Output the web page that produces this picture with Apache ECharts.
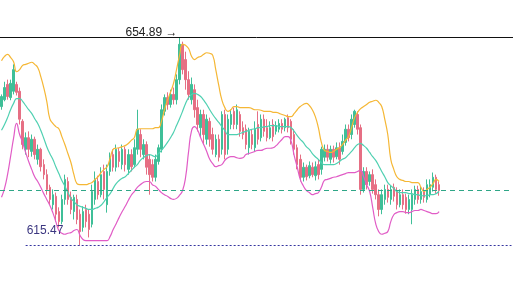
<!DOCTYPE html>
<html>
<head>
<meta charset="utf-8">
<script src="https://cdn.jsdelivr.net/npm/echarts@6/dist/echarts.min.js"></script>
<style>
html,body{margin:0;padding:0;background:#fff;}
#chart{width:513px;height:285px;}
</style>
</head>
<body>
<div id="chart"></div>
<script>
// [open, close, low, high]
const ohlc = [
[641.8,643.7,641.2,644.1],[643.1,645.4,642.8,646.5],[646.0,643.7,643.1,646.9],[643.5,646.2,643.0,646.9],[644.7,648.8,644.1,649.8],
[646.0,644.5,643.9,646.5],[644.7,639.4,638.4,645.4],[639.0,634.6,633.7,639.4],[633.7,635.9,632.7,636.9],[635.9,633.7,632.2,637.1],
[633.3,635.6,632.3,636.5],[635.6,632.7,631.8,636.1],[631.8,633.7,630.8,634.6],[633.7,630.4,629.5,634.0],[630.8,628.9,628.0,631.8],
[628.9,626.1,625.1,629.9],[626.5,624.2,623.2,627.0],[623.2,625.1,622.3,626.1],[624.8,621.4,620.0,625.5],[621.9,620.0,618.9,622.7],
[620.0,624.2,619.5,625.1],[624.2,628.0,623.2,628.9],[627.6,624.2,623.2,628.4],[624.6,622.3,621.4,625.7],[621.9,624.6,620.4,625.1],
[624.2,620.4,619.5,625.1],[621.4,618.1,615.47,622.3],[618.9,621.9,618.1,622.9],[622.3,620.0,618.9,623.2],[621.4,618.5,617.0,622.3],
[619.5,625.7,618.9,627.0],[624.2,628.0,623.2,629.5],[627.6,625.1,624.2,628.7],[625.1,628.9,624.6,630.3],[629.5,626.1,624.2,630.8],
[623.2,629.5,621.7,630.8],[629.5,632.2,628.7,633.1],[632.7,630.3,629.5,633.7],[630.3,633.7,629.5,634.6],[633.3,631.4,630.3,634.0],
[630.8,633.7,629.9,634.6],[633.7,630.8,629.5,634.2],[629.9,632.7,628.9,633.7],[632.7,630.4,629.5,633.7],[630.8,634.0,630.3,635.6],
[633.7,637.5,632.7,641.2],[636.5,633.7,632.2,637.5],[632.7,634.6,631.8,635.6],[634.6,630.3,628.9,635.2],[631.8,628.9,625.1,632.7],
[630.8,628.4,627.6,631.8],[628.4,631.8,627.6,632.7],[631.4,634.0,630.8,634.6],[633.7,641.2,633.1,642.2],[640.9,643.5,640.1,644.1],
[643.5,642.2,641.2,644.5],[642.2,644.1,641.6,645.0],[644.1,643.1,642.2,645.4],[643.1,646.9,642.2,647.9],[646.9,653.6,646.0,654.89],
[653.6,648.8,647.9,654.1],[650.7,646.9,645.0,652.2],[646.9,644.1,643.1,648.5],[643.1,646.0,642.2,647.3],[645.0,641.2,639.7,646.0],
[641.6,638.4,637.1,643.1],[637.8,640.3,635.9,641.2],[640.3,636.5,634.6,641.2],[635.6,639.4,634.6,640.3],[639.0,635.6,634.2,639.7],
[636.5,633.7,632.7,637.8],[632.7,635.6,632.2,636.5],[635.6,632.2,631.4,636.5],[633.7,640.3,632.7,640.9],[640.3,632.7,631.8,641.2],
[633.7,639.4,632.7,640.3],[638.4,640.3,637.5,641.2],[640.9,638.4,637.5,641.6],[638.4,641.2,637.5,642.2],[640.3,637.1,636.1,640.9],
[637.8,636.5,635.6,639.0],[637.5,634.6,633.7,638.4],[634.0,637.1,632.7,637.8],[636.5,634.6,633.7,637.5],[634.0,637.5,633.3,639.0],
[638.4,635.6,634.6,640.9],[635.9,639.4,635.2,640.3],[639.4,637.1,636.1,640.3],[637.8,635.9,635.2,639.4],[635.9,637.8,635.6,639.0],
[638.4,636.1,635.2,639.4],[637.1,638.2,636.5,639.0],[637.5,638.6,636.9,639.4],[638.6,637.5,636.7,639.4],[637.8,639.4,637.1,639.7],
[639.7,637.8,636.9,640.3],[639.0,635.6,634.6,639.4],[636.5,633.7,632.7,637.5],[634.0,630.8,629.9,634.6],[631.8,628.4,627.6,632.7],
[628.4,630.3,627.6,631.2],[630.3,628.5,627.8,630.8],[628.7,630.6,628.2,631.4],[630.3,628.9,628.4,631.2],[628.7,630.4,627.8,631.4],
[630.8,628.9,628.0,631.8],[629.9,633.7,628.9,634.2],[632.2,633.7,631.4,634.6],[633.7,632.2,631.4,634.6],[631.8,633.7,631.0,634.4],
[633.7,632.2,631.2,634.4],[632.3,634.0,631.8,635.0],[634.0,631.8,630.8,635.0],[633.3,635.2,632.7,636.5],[635.0,637.5,634.4,638.4],
[637.5,635.9,635.2,638.4],[636.5,639.4,635.6,640.3],[638.4,640.9,637.8,641.2],[640.3,637.5,636.5,640.9],[637.8,626.1,625.1,638.4],
[626.1,629.5,625.5,630.3],[629.5,627.0,626.1,630.3],[627.6,628.9,626.8,629.5],[628.9,626.1,625.3,629.9],[627.0,625.1,624.2,628.0],
[625.1,622.3,621.0,626.1],[622.3,625.1,621.4,626.1],[624.2,626.1,623.2,627.0],[626.1,624.6,623.6,627.0],[624.2,626.1,623.2,626.8],
[626.5,624.8,623.8,627.2],[625.7,623.2,622.3,626.5],[623.2,625.1,622.7,626.1],[625.1,623.2,622.3,626.1],[624.6,622.3,621.5,625.3],
[622.3,624.2,621.4,625.1],[622.3,625.1,619.5,626.1],[624.2,626.1,623.2,626.8],[626.1,624.2,623.4,626.8],[624.2,625.7,623.4,626.7],
[625.7,624.6,623.6,626.5],[624.2,627.0,623.6,628.0],[625.1,627.0,624.6,628.0],[626.5,628.4,625.7,629.3],[628.4,626.1,625.3,628.9],
[627.0,625.9,624.9,627.6]
];

const bollUpper = [
650.5,651.3,651.7,651.1,650.3,648.4,648.8,649.6,649.8,650.0,
650.2,649.8,649.2,647.5,645.4,642.8,639.5,638.6,638.0,637.6,
636.1,634.6,632.9,631.2,628.9,627.2,627.0,627.0,627.0,627.2,
627.4,628.0,628.5,629.3,629.9,630.4,632.0,633.7,633.9,634.0,
634.2,634.4,634.8,635.4,635.9,637.5,637.6,637.6,637.6,637.6,
637.6,637.8,637.8,639.0,641.2,643.0,644.5,646.2,648.8,651.5,
653.6,653.4,652.8,651.3,650.7,651.1,651.3,651.7,652.0,651.9,
651.5,648.8,645.8,643.1,641.6,640.9,641.2,641.8,641.8,641.6,
641.6,641.6,641.6,641.4,641.2,641.2,641.1,640.9,640.9,640.9,
640.7,640.7,640.5,640.3,640.1,639.9,639.9,640.5,641.2,641.8,
642.2,642.4,642.0,641.2,639.9,637.8,635.0,633.5,633.3,633.1,
633.3,633.7,634.0,634.6,635.4,636.1,637.8,639.7,640.7,641.4,
641.8,642.2,642.6,642.8,643.0,642.6,641.8,639.4,636.5,631.8,
629.9,628.5,628.0,627.8,627.6,627.6,627.4,627.4,627.4,626.5,
625.7,626.1,626.5,627.2,628.0,627.6
];

const bollMid = [
637.3,638.4,639.7,641.2,642.4,643.3,643.3,642.8,642.0,641.2,
640.5,639.5,638.6,637.3,635.8,634.2,632.9,631.8,630.4,629.1,
627.8,626.7,625.5,624.4,623.8,623.2,622.9,622.7,622.5,622.3,
622.3,622.5,622.7,623.1,623.8,624.6,625.3,626.3,627.2,627.8,
628.2,628.5,629.1,629.7,630.3,630.8,631.6,632.1,632.5,632.7,
632.5,632.3,632.9,633.5,634.2,635.0,635.9,636.9,638.2,639.5,
640.9,642.4,643.5,644.1,644.3,644.1,643.7,643.0,642.2,641.2,
640.3,639.5,638.8,638.0,637.3,636.5,636.5,636.5,636.5,636.7,
636.9,637.1,637.3,637.5,637.6,637.8,637.8,638.0,638.0,638.2,
638.2,638.2,638.0,638.0,638.0,638.0,637.8,637.1,636.3,635.6,
635.0,634.2,633.7,632.9,632.3,631.8,631.2,630.8,630.8,630.8,
630.8,631.0,631.4,631.8,632.1,632.7,633.3,634.0,634.6,634.8,
634.4,633.9,633.1,632.3,631.6,630.6,629.5,628.5,627.4,626.8,
626.3,625.7,625.5,625.5,625.5,625.3,625.3,625.1,625.1,624.9,
624.9,624.9,625.1,625.1,625.3,625.7
];

const bollLower = [
624.6,626.3,628.9,632.3,635.8,638.6,636.5,635.0,633.1,631.4,
629.9,628.5,627.6,626.5,625.3,624.2,623.1,621.7,620.0,618.3,
617.8,617.6,617.8,617.9,618.3,618.5,617.4,616.6,616.4,616.4,
616.4,616.4,616.4,616.4,616.4,616.4,617.2,618.5,619.6,620.8,
621.9,622.9,624.0,625.0,625.7,626.5,627.0,627.4,627.6,627.6,
627.0,626.7,626.1,625.5,625.1,624.8,624.4,624.2,624.4,625.0,
625.9,628.4,633.3,637.3,638.0,637.3,635.9,634.6,633.3,631.8,
631.0,630.4,630.6,630.8,631.6,632.1,632.3,632.3,632.1,632.0,
632.1,632.7,632.9,633.1,633.3,633.5,633.5,633.7,633.9,633.9,
634.0,634.4,635.0,635.6,636.1,636.1,635.2,632.5,630.3,628.0,
626.8,625.9,625.5,625.1,625.3,625.5,626.5,627.8,628.0,628.2,
628.4,628.5,628.7,628.9,629.1,629.3,629.3,629.3,629.5,629.7,
628.5,627.0,625.7,622.7,619.6,618.1,617.6,617.8,618.1,620.0,
621.3,621.7,621.9,621.9,621.7,621.7,621.9,622.1,622.1,622.3,
622.1,621.9,621.7,621.5,621.5,621.9
];

const emptySlots = 24;
const categories = Array.from({length: ohlc.length + emptySlots}, (_, i) => String(i + 1));

const highs = ohlc.map(d => d[3]);
const lows = ohlc.map(d => d[2]);
const maxHigh = Math.max(...highs);
const minLow = Math.min(...lows);
const maxIdx = highs.indexOf(maxHigh);
const lastClose = ohlc[ohlc.length - 1][1];

const chart = echarts.init(document.getElementById('chart'), null, {renderer: 'canvas'});
chart.setOption({
  animation: false,
  backgroundColor: '#ffffff',
  grid: {left: 0, right: 0, top: 0, bottom: 0},
  xAxis: {
    type: 'category', data: categories, boundaryGap: true, show: false
  },
  yAxis: {
    type: 'value', min: 607.985, max: 661.995, show: false, scale: true,
    splitLine: {show: false}
  },
  series: [
    {
      type: 'candlestick',
      data: ohlc,
      barWidth: 2,
      itemStyle: {
        color: '#3fbf98', color0: '#e66f84',
        borderColor: '#3fbf98', borderColor0: '#e66f84', borderWidth: 1
      },
      markLine: {
        silent: true,
        symbol: ['none', 'none'],
        animation: false,
        lineStyle: {color: '#2fa687', width: 1, type: [5, 4], opacity: 1},
        data: [
          {yAxis: maxHigh, lineStyle: {color: '#111111', width: 1, type: 'solid'}, label: {show: false}},
          {yAxis: lastClose, lineStyle: {color: '#2fa687', width: 1, type: [5, 4]}, label: {show: false}},
          [
            {coord: [8, minLow], lineStyle: {color: '#3535a0', width: 1, type: [2, 2]},
             label: {show: true, position: 'insideStartTop', formatter: minLow.toFixed(2),
                     color: '#3b3680', fontSize: 12, fontFamily: 'Liberation Sans', distance: [1, 9]}},
            {coord: [categories.length - 1, minLow]}
          ]
        ]
      },
      markPoint: {
        silent: true,
        animation: false,
        data: [{
          coord: [maxIdx, maxHigh], symbol: 'circle', symbolSize: 0,
          label: {show: true, position: 'left', distance: 2, offset: [0, -5],
                  formatter: maxHigh.toFixed(2) + ' \u2192', color: '#222222',
                  fontSize: 12, fontFamily: 'Liberation Sans'}
        }]
      }
    },
    {type: 'line', data: bollUpper, symbol: 'none', smooth: true,
     lineStyle: {color: '#f5b735', width: 1.2}},
    {type: 'line', data: bollMid, symbol: 'none', smooth: true,
     lineStyle: {color: '#4fd0b1', width: 1.2}},
    {type: 'line', data: bollLower, symbol: 'none', smooth: true,
     lineStyle: {color: '#e15cc6', width: 1.2}}
  ]
});
</script>
</body>
</html>
